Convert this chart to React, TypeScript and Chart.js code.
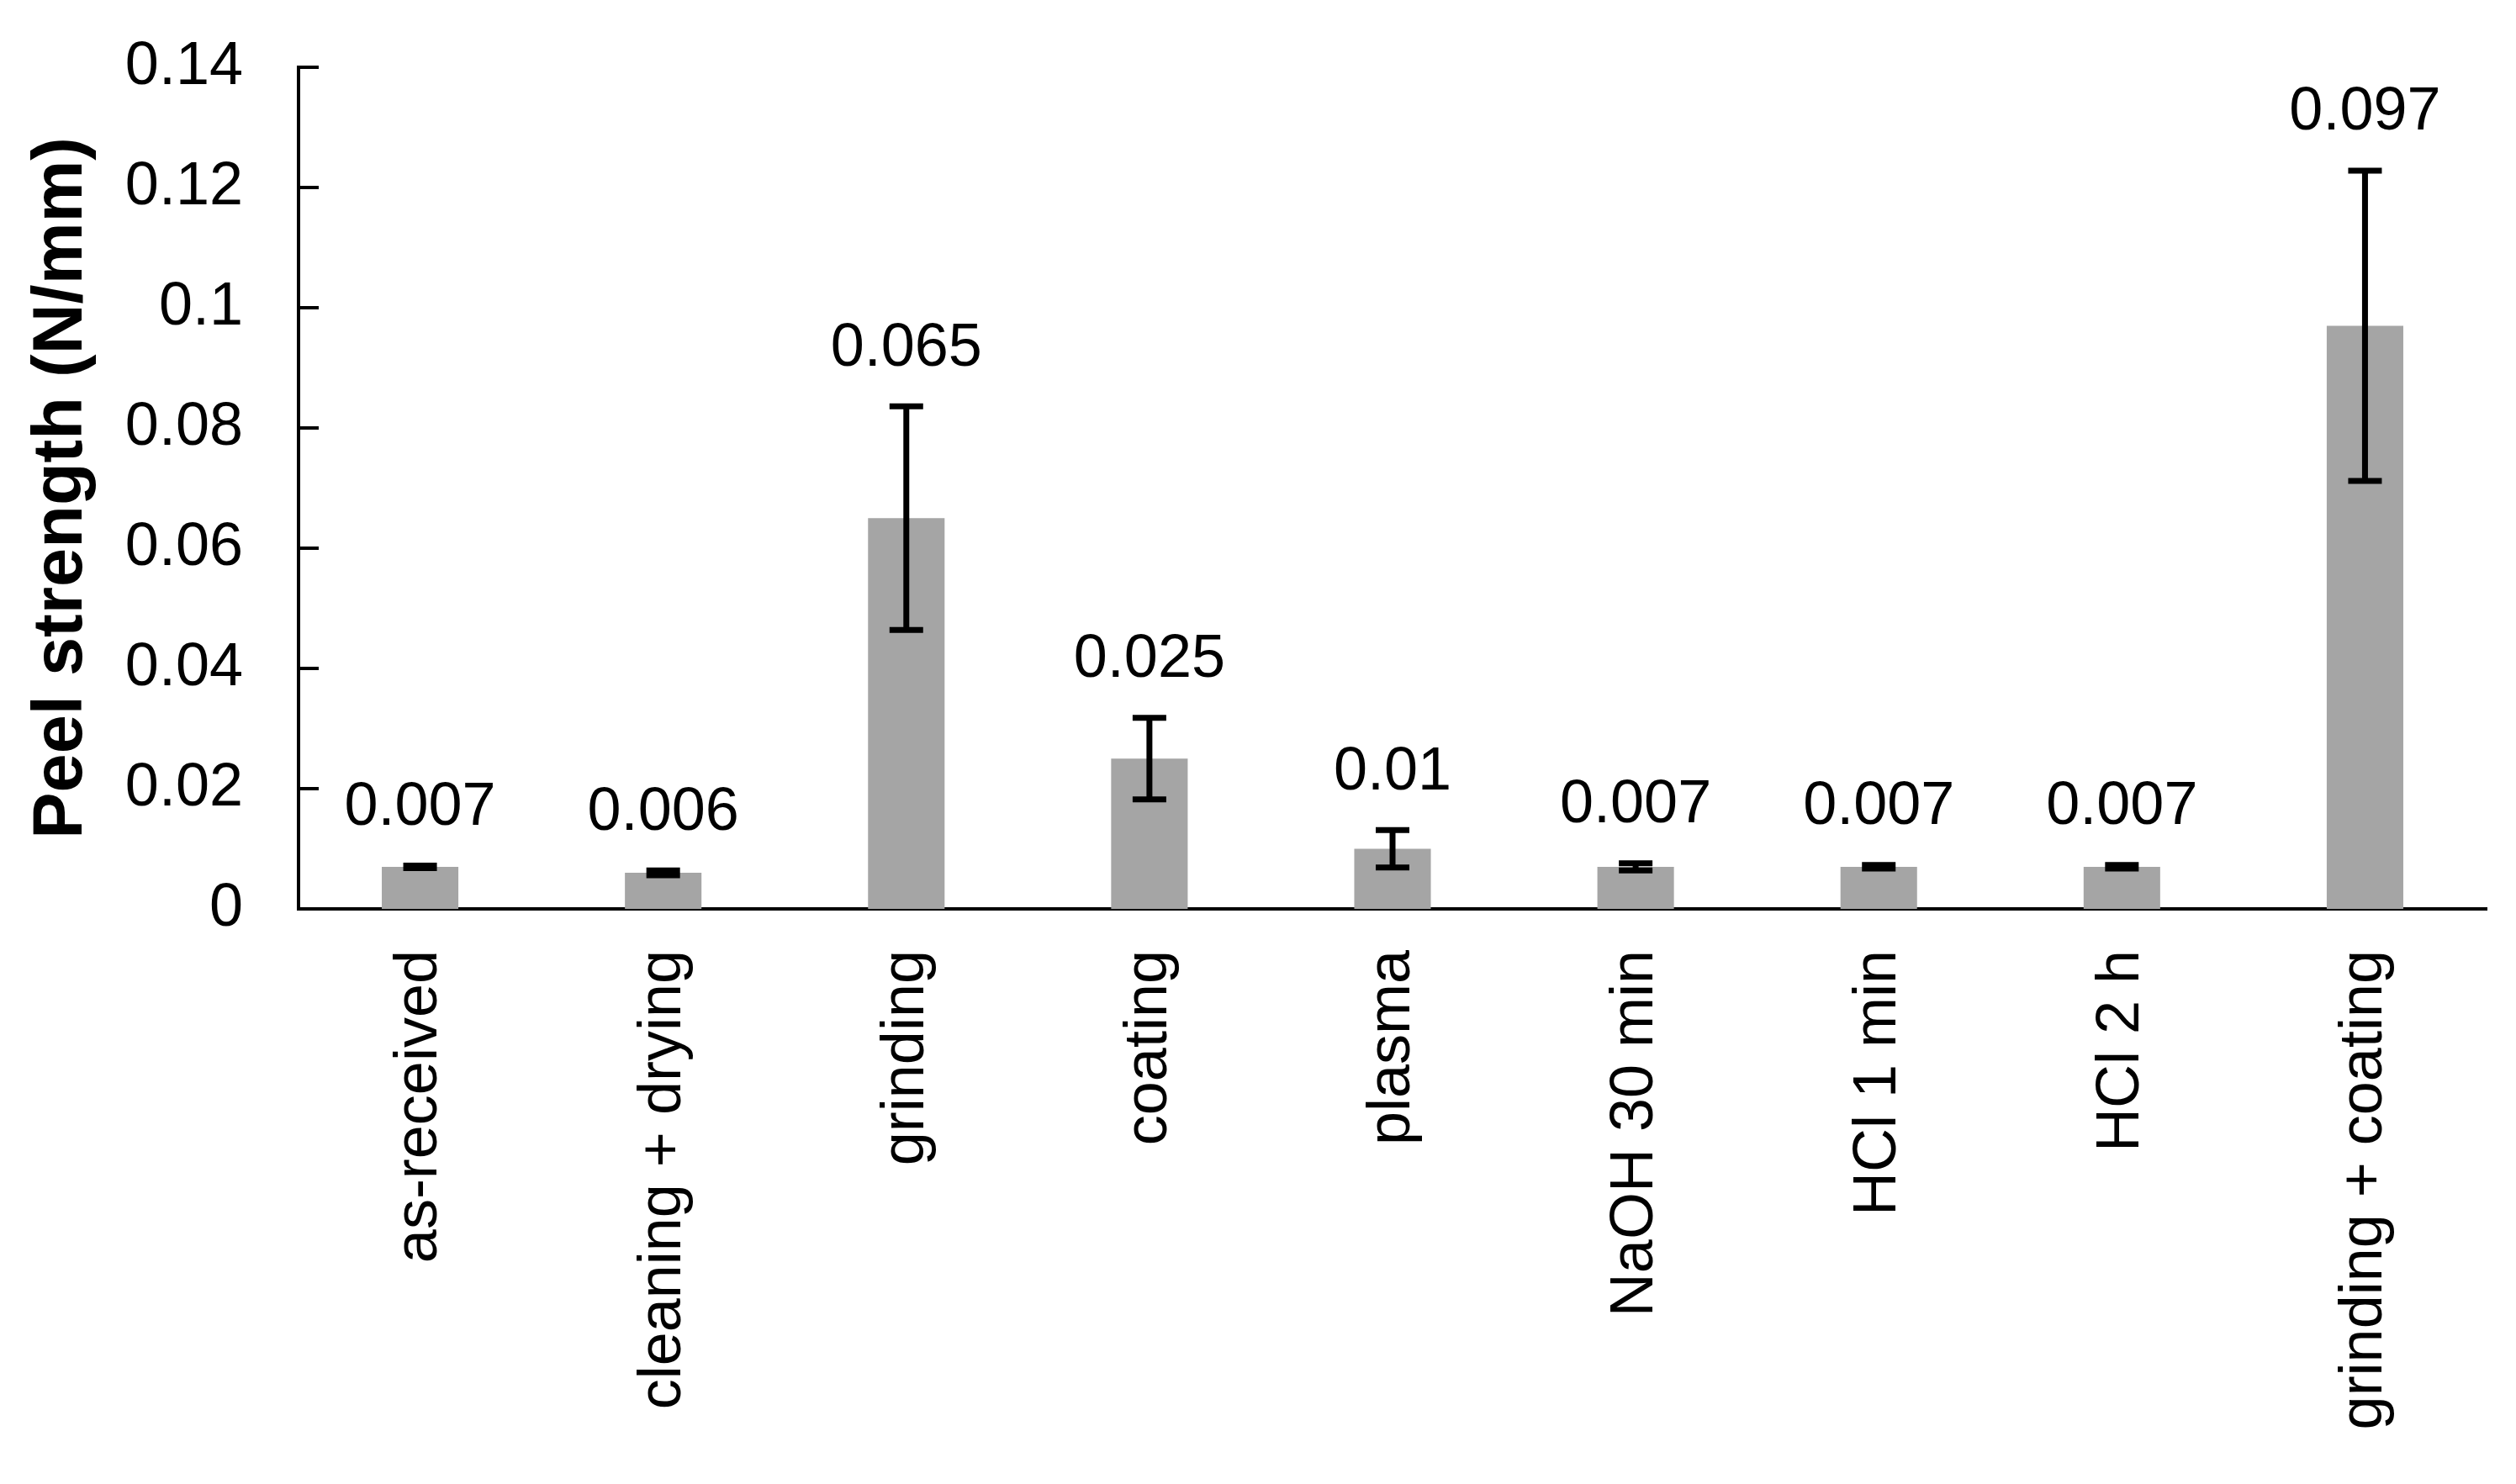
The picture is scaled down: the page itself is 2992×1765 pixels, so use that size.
import { useEffect, useRef } from "react";
import { Chart, registerables } from "chart.js";
Chart.register(...registerables);

const categories = [
  "as-received",
  "cleaning + drying",
  "grinding",
  "coating",
  "plasma",
  "NaOH 30 min",
  "HCl 1 min",
  "HCl 2 h",
  "grinding + coating",
];
const peelStrength = [0.007, 0.006, 0.065, 0.025, 0.01, 0.007, 0.007, 0.007, 0.097];
const peelError = [0.0002, 0.0004, 0.0186, 0.0068, 0.0031, 0.0006, 0.0003, 0.0003, 0.0258];
const yTicks = [0, 0.02, 0.04, 0.06, 0.08, 0.1, 0.12, 0.14];

const FONT = "'Liberation Sans', Arial, sans-serif";

// error bars + value labels above them
const errorBarPlugin = {
  id: "errorBars",
  afterDatasetsDraw(chart: any) {
    const { ctx, scales } = chart;
    const meta = chart.getDatasetMeta(0);
    const y = scales.y;
    ctx.save();
    ctx.strokeStyle = "#000";
    ctx.lineWidth = 7;
    ctx.lineCap = "butt";
    meta.data.forEach((bar: any, i: number) => {
      const v = peelStrength[i];
      const e = peelError[i];
      const x = bar.x;
      const top = y.getPixelForValue(v + e);
      const bot = y.getPixelForValue(v - e);
      ctx.beginPath();
      ctx.moveTo(x, top);
      ctx.lineTo(x, bot);
      ctx.moveTo(x - 20, top);
      ctx.lineTo(x + 20, top);
      ctx.moveTo(x - 20, bot);
      ctx.lineTo(x + 20, bot);
      ctx.stroke();

      ctx.fillStyle = "#000";
      ctx.font = `72px ${FONT}`;
      ctx.textAlign = "center";
      ctx.textBaseline = "alphabetic";
      ctx.fillText(String(v), x, top - 3.5 - 45);
    });
    ctx.restore();
  },
};

// y ticks pointing into the plot
const innerTicksPlugin = {
  id: "innerTicks",
  afterDraw(chart: any) {
    const { ctx, scales, chartArea } = chart;
    const y = scales.y;
    ctx.save();
    ctx.strokeStyle = "#000";
    ctx.lineWidth = 4;
    yTicks.forEach((t) => {
      const py = Math.round(y.getPixelForValue(t));
      ctx.beginPath();
      ctx.moveTo(chartArea.left, py);
      ctx.lineTo(chartArea.left + 24, py);
      ctx.stroke();
    });
    ctx.restore();
  },
};

function PeelChart() {
  const canvasRef = useRef<HTMLCanvasElement>(null);

  useEffect(() => {
    if (!canvasRef.current) return;
    const ctx = canvasRef.current.getContext("2d");
    if (!ctx) return;

    const chart = new Chart(ctx, {
      type: "bar",
      data: {
        labels: categories,
        datasets: [
          {
            label: "Peel strength",
            data: peelStrength,
            backgroundColor: "#a5a5a5",
            borderWidth: 0,
            barPercentage: 0.315,
            categoryPercentage: 1,
          },
        ],
      },
      options: {
        responsive: true,
        maintainAspectRatio: false,
        animation: false,
        layout: { padding: { top: 80, right: 35, left: 0, bottom: 0 } },
        plugins: { legend: { display: false }, tooltip: { enabled: false } },
        scales: {
          x: {
            offset: true,
            grid: { display: false, drawTicks: false },
            border: { display: true, color: "#000", width: 4 },
            ticks: {
              autoSkip: false,
              minRotation: 90,
              maxRotation: 90,
              padding: 49,
              color: "#000",
              font: { family: FONT, size: 72 },
            },
            afterFit: (s: any) => {
              s.height = 684;
              s.paddingLeft = 0;
              s.paddingRight = 0;
            },
          },
          y: {
            min: 0,
            max: 0.14,
            afterBuildTicks: (s: any) => {
              s.ticks = yTicks.map((v) => ({ value: v }));
            },
            grid: { display: false, drawTicks: false },
            border: { display: true, color: "#000", width: 4 },
            ticks: {
              padding: 66,
              color: "#000",
              font: { family: FONT, size: 72 },
              callback: (v: any) => String(Number(Number(v).toFixed(3))),
            },
            title: {
              display: true,
              text: "Peel strength (N/mm)",
              color: "#000",
              font: { family: FONT, size: 83, weight: "bold" },
              padding: { top: 24, bottom: 0 },
            },
            afterFit: (s: any) => {
              s.width = 355;
              s.paddingTop = 0;
              s.paddingBottom = 0;
            },
          },
        },
      },
      plugins: [errorBarPlugin, innerTicksPlugin],
    });

    return () => chart.destroy();
  }, []);

  return <canvas ref={canvasRef} />;
}

export default function App() {
  return (
    <div
      style={{
        position: "fixed",
        left: 0,
        top: 0,
        width: 2992,
        height: 1765,
        background: "#fff",
      }}
    >
      <PeelChart />
    </div>
  );
}
